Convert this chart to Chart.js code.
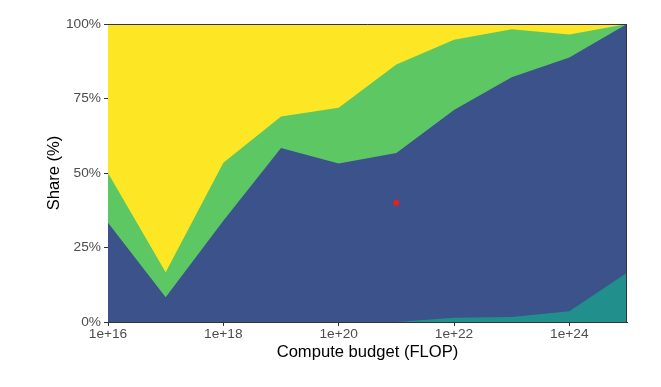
<!DOCTYPE html>
<html><head><meta charset="utf-8">
<script src="https://cdn.jsdelivr.net/npm/chart.js@4/dist/chart.umd.min.js"></script>
<style>html,body{margin:0;padding:0;background:#fff}#wrap{width:661px;height:387px;position:relative}</style>
</head><body><div id="wrap"><canvas id="c"></canvas></div>
<script>
const budgets = [1e16, 1e17, 1e18, 1e19, 1e20, 1e21, 1e22, 1e23, 1e24, 1e25];
const tealShare   = [0, 0, 0, 0, 0, 0, 1.4, 1.7, 3.6, 16.5];
const blueShare   = [33.3, 8.3, 34.0, 58.4, 53.2, 56.7, 69.7, 80.4, 85.2, 83.5];
const greenShare  = [16.7, 8.4, 19.4, 10.6, 18.7, 29.7, 23.6, 16.1, 7.7, 0];
const yellowShare = [50.0, 83.3, 46.6, 31.0, 28.1, 13.6, 5.3, 1.8, 3.5, 0];
const xTickValues = [1e16, 1e18, 1e20, 1e22, 1e24];
const yTickValues = [0, 25, 50, 75, 100];
const markerX = [1e21];
const markerY = [40];

const pts = arr => budgets.map((b, i) => ({x: b, y: arr[i]}));
const layer = (label, arr, color) => ({
  label, data: pts(arr), backgroundColor: color, borderColor: color,
  borderWidth: 0, pointRadius: 0, fill: 'origin', stack: 'share', tension: 0
});

const borderPlugin = {
  id: 'panelBorder',
  afterDatasetsDraw(chart) {
    const {ctx, chartArea: a} = chart;
    ctx.save();
    ctx.strokeStyle = '#333333';
    ctx.lineWidth = 1;
    ctx.beginPath();
    ctx.moveTo(a.left, a.top + 0.5);
    ctx.lineTo(a.right - 0.5, a.top + 0.5);
    ctx.lineTo(a.right - 0.5, a.bottom);
    ctx.stroke();
    ctx.restore();
  }
};

new Chart(document.getElementById('c'), {
  type: 'line',
  data: {
    datasets: [
      {label: 'marker', type: 'scatter', data: markerX.map((x, i) => ({x, y: markerY[i]})),
       backgroundColor: '#e8201c', borderColor: '#e8201c', pointRadius: 3, borderWidth: 0,
       stack: 'marker', order: -1, showLine: false},
      layer('teal', tealShare, '#21908C'),
      layer('blue', blueShare, '#3B528B'),
      layer('green', greenShare, '#5DC863'),
      layer('yellow', yellowShare, '#FDE725')
    ]
  },
  options: {
    responsive: true, maintainAspectRatio: false, animation: false,
    layout: {padding: {left: 0, top: 24, right: 34, bottom: 0}},
    plugins: {legend: {display: false}, tooltip: {enabled: false}},
    elements: {line: {borderWidth: 0}},
    scales: {
      x: {
        type: 'logarithmic', min: 1e16, max: 1e25, offset: false,
        afterBuildTicks: s => { s.ticks = xTickValues.map(v => ({value: v})); },
        afterFit: s => { s.height = 65; },
        ticks: {autoSkip: false, maxRotation: 0, padding: 0, color: '#4D4D4D',
          font: {family: 'Liberation Sans, Arial, sans-serif', size: 13.7},
          callback: v => '1e+' + Math.round(Math.log10(v))},
        grid: {display: true, drawOnChartArea: false, drawTicks: true, tickLength: 4, tickColor: '#333333', tickWidth: 1},
        border: {display: true, color: '#333333', width: 1},
        title: {display: true, text: 'Compute budget (FLOP)', color: '#000000',
          font: {family: 'Liberation Sans, Arial, sans-serif', size: 16.6, lineHeight: 1.2},
          padding: {top: 0, bottom: 25}}
      },
      y: {
        stacked: true, min: 0, max: 100,
        afterBuildTicks: s => { s.ticks = yTickValues.map(v => ({value: v})); },
        afterFit: s => { s.width = 108; },
        ticks: {padding: 3, color: '#4D4D4D',
          font: {family: 'Liberation Sans, Arial, sans-serif', size: 13.7},
          callback: v => v + '%'},
        grid: {display: true, drawOnChartArea: false, drawTicks: true, tickLength: 4, tickColor: '#333333', tickWidth: 1},
        border: {display: true, color: '#333333', width: 1},
        title: {display: true, text: 'Share (%)', color: '#000000',
          font: {family: 'Liberation Sans, Arial, sans-serif', size: 16.6, lineHeight: 1.2},
          padding: {top: 44, bottom: 0}}
      }
    }
  },
  plugins: [borderPlugin]
});
</script></body></html>
